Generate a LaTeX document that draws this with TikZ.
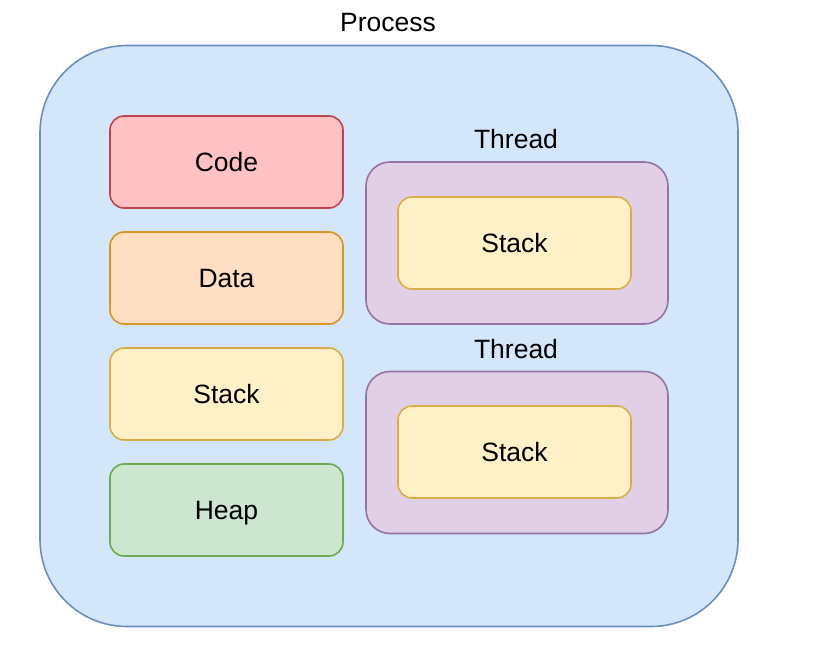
\documentclass[tikz,border=0pt]{standalone}
\usepackage{fontspec}
\setmainfont{Liberation Sans}
\definecolor{procfill}{HTML}{D4E6FA}
\definecolor{procline}{HTML}{6C8EBF}
\definecolor{codefill}{HTML}{FFC1C4}
\definecolor{codeline}{HTML}{BE4550}
\definecolor{datafill}{HTML}{FFDFC4}
\definecolor{dataline}{HTML}{D99426}
\definecolor{stackfill}{HTML}{FFF0C8}
\definecolor{stackline}{HTML}{D9AE4A}
\definecolor{heapfill}{HTML}{CCE6CF}
\definecolor{heapline}{HTML}{6DAA52}
\definecolor{threadfill}{HTML}{E1CFE6}
\definecolor{threadline}{HTML}{9673A6}
\begin{document}
\begin{tikzpicture}[x=1pt,y=-1pt,
	txt/.style={font=\fontsize{26.5}{30}\selectfont, text height=19pt, text depth=0pt},
	seg/.style={txt, draw, line width=1.6pt, rounded corners=14pt,
		minimum width=233pt, minimum height=92pt},
	thread/.style={draw=threadline, fill=threadfill, line width=1.6pt,
		rounded corners=24pt, minimum width=302pt, minimum height=162pt}]
	\useasboundingbox (0,0) rectangle (826,648);
	%\draw[help lines] (0,0) grid[step=50] (826,648);
	\node[draw=procline, fill=procfill, line width=1.6pt, rounded corners=87pt,
		minimum width=698pt, minimum height=581pt] (process) at (389,336) {};
	\node[txt] (processlabel) at (388,22) {Process};
	% segments of the process
	\node[seg, draw=codeline, fill=codefill] (code) at (226.5,162) {Code};
	\node[seg, draw=dataline, fill=datafill] (data) at (226.5,278) {Data};
	\node[seg, draw=stackline, fill=stackfill] (stack) at (226.5,394) {Stack};
	\node[seg, draw=heapline, fill=heapfill] (heap) at (226.5,510) {Heap};
	% threads
	\node[thread] (threadA) at (517,243) {};
	\node[txt] (threadAlabel) at (516,139) {Thread};
	\node[seg, draw=stackline, fill=stackfill] (stackA) at (514.5,243) {Stack};
	\node[thread] (threadB) at (517,452.5) {};
	\node[txt] (threadBlabel) at (516,349) {Thread};
	\node[seg, draw=stackline, fill=stackfill] (stackB) at (514.5,452) {Stack};
\end{tikzpicture}
\end{document}
